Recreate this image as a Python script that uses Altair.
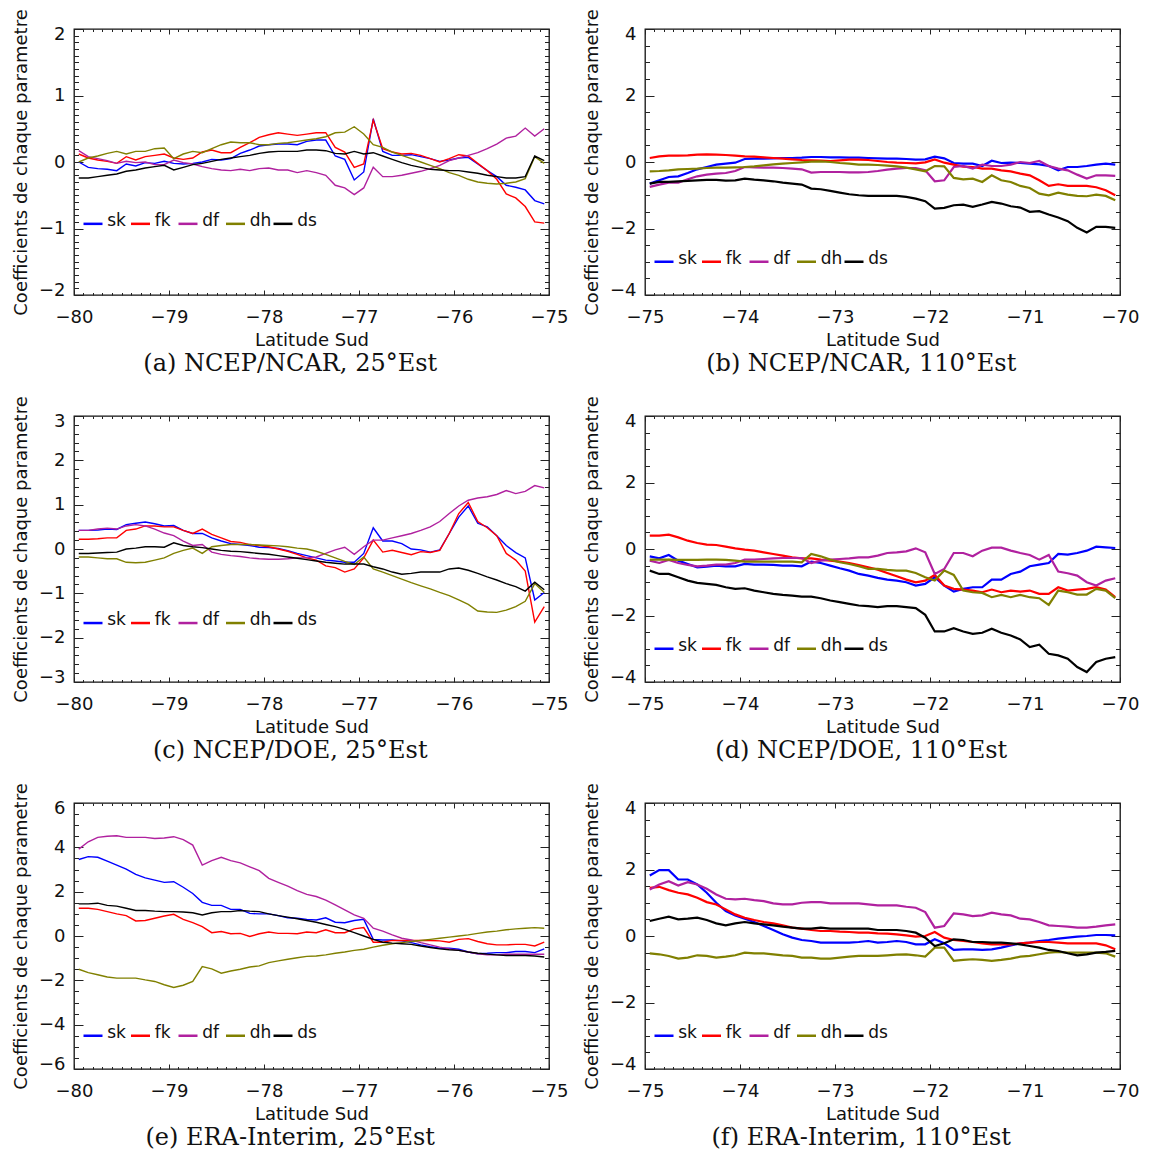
import altair as alt
import pandas as pd

# ---------------- data ----------------
LAT_25 = [round(-79.95 + 0.1 * i, 2) for i in range(50)]
LAT_110 = [round(-74.95 + 0.1 * i, 2) for i in range(50)]
PARAMS = ["sk", "fk", "df", "dh", "ds"]
COLORS = ["#0000ff", "#ff0000", "#b0219f", "#808000", "#000000"]

# (a) NCEP/NCAR 25E
a_sk = [0.0,-0.08,-0.1,-0.11,-0.13,-0.03,-0.06,-0.01,-0.02,0.01,
        -0.02,-0.03,-0.02,0.0,0.04,0.03,0.05,0.13,0.18,0.24,
        0.26,0.27,0.27,0.26,0.31,0.33,0.33,0.09,0.04,-0.27,
        -0.15,0.65,0.16,0.1,0.1,0.11,0.08,0.05,0.01,0.03,
        0.06,0.07,-0.03,-0.13,-0.22,-0.35,-0.38,-0.42,-0.58,-0.63]
a_fk = [0.12,0.06,0.03,0.01,-0.02,0.08,0.03,0.08,0.1,0.12,
        0.06,0.04,0.06,0.15,0.18,0.14,0.14,0.22,0.29,0.37,
        0.41,0.44,0.42,0.4,0.42,0.44,0.44,0.22,0.15,-0.08,
        -0.03,0.63,0.2,0.15,0.12,0.13,0.1,0.05,0.0,0.05,
        0.11,0.09,-0.02,-0.13,-0.26,-0.48,-0.54,-0.67,-0.9,-0.92]
a_df = [0.17,0.08,0.05,0.02,-0.02,0.01,-0.01,0.0,-0.04,-0.04,
        0.03,-0.01,-0.03,-0.07,-0.1,-0.12,-0.13,-0.11,-0.13,-0.1,
        -0.09,-0.12,-0.12,-0.16,-0.13,-0.16,-0.2,-0.35,-0.39,-0.49,
        -0.39,-0.08,-0.22,-0.22,-0.2,-0.17,-0.14,-0.1,-0.05,0.02,
        0.06,0.1,0.14,0.2,0.27,0.36,0.39,0.51,0.39,0.5]
a_dh = [0.0,0.06,0.09,0.13,0.16,0.12,0.16,0.16,0.2,0.21,
        0.05,0.12,0.16,0.14,0.2,0.26,0.3,0.29,0.29,0.26,
        0.26,0.28,0.29,0.31,0.33,0.35,0.38,0.44,0.45,0.53,
        0.42,0.26,0.22,0.15,0.1,0.05,0.0,-0.05,-0.1,-0.16,
        -0.2,-0.26,-0.3,-0.32,-0.33,-0.32,-0.3,-0.25,0.08,-0.02]
a_ds = [-0.24,-0.24,-0.22,-0.2,-0.18,-0.14,-0.12,-0.09,-0.07,-0.05,
        -0.12,-0.08,-0.04,-0.02,0.01,0.04,0.06,0.08,0.1,0.13,
        0.15,0.16,0.16,0.16,0.18,0.18,0.17,0.13,0.12,0.16,
        0.12,0.14,0.09,0.04,-0.01,-0.05,-0.08,-0.11,-0.12,-0.13,
        -0.13,-0.15,-0.17,-0.2,-0.22,-0.24,-0.24,-0.22,0.09,0.02]

# (b) NCEP/NCAR 110E
b_sk = [-0.65,-0.55,-0.45,-0.43,-0.33,-0.22,-0.15,-0.08,-0.05,-0.02,
        0.09,0.1,0.1,0.11,0.12,0.12,0.13,0.15,0.15,0.14,
        0.14,0.13,0.13,0.12,0.11,0.1,0.1,0.09,0.07,0.08,
        0.16,0.11,-0.03,-0.05,-0.05,-0.12,0.04,-0.03,-0.02,-0.03,
        -0.05,-0.07,-0.12,-0.25,-0.15,-0.15,-0.12,-0.08,-0.05,-0.08]
b_fk = [0.12,0.17,0.19,0.19,0.2,0.22,0.23,0.22,0.21,0.19,
        0.17,0.16,0.14,0.12,0.1,0.08,0.06,0.05,0.04,0.03,
        0.05,0.07,0.07,0.06,0.03,0.0,-0.02,-0.03,-0.04,-0.01,
        0.08,-0.02,-0.08,-0.14,-0.15,-0.2,-0.2,-0.25,-0.28,-0.35,
        -0.4,-0.55,-0.72,-0.67,-0.72,-0.72,-0.72,-0.76,-0.85,-1.0]
b_df = [-0.75,-0.68,-0.62,-0.62,-0.52,-0.43,-0.38,-0.35,-0.33,-0.27,
        -0.15,-0.16,-0.17,-0.17,-0.18,-0.2,-0.22,-0.32,-0.3,-0.3,
        -0.3,-0.31,-0.31,-0.3,-0.27,-0.23,-0.2,-0.18,-0.18,-0.25,
        -0.58,-0.55,-0.15,-0.12,-0.2,-0.08,-0.12,-0.12,-0.08,0.0,
        -0.03,0.03,-0.12,-0.2,-0.25,-0.38,-0.5,-0.4,-0.4,-0.42]
b_dh = [-0.28,-0.27,-0.25,-0.22,-0.21,-0.2,-0.18,-0.17,-0.17,-0.16,
        -0.15,-0.13,-0.1,-0.07,-0.05,-0.03,-0.01,0.01,0.02,0.0,
        -0.03,-0.05,-0.08,-0.08,-0.09,-0.11,-0.13,-0.17,-0.22,-0.28,
        -0.12,-0.13,-0.48,-0.52,-0.5,-0.6,-0.4,-0.55,-0.6,-0.72,
        -0.78,-0.95,-1.0,-0.92,-0.98,-1.02,-1.03,-0.98,-1.02,-1.15]
b_ds = [-0.65,-0.6,-0.6,-0.58,-0.57,-0.55,-0.54,-0.54,-0.56,-0.55,
        -0.5,-0.53,-0.55,-0.58,-0.62,-0.65,-0.68,-0.8,-0.82,-0.87,
        -0.92,-0.97,-1.0,-1.02,-1.02,-1.02,-1.02,-1.05,-1.1,-1.18,
        -1.4,-1.38,-1.3,-1.28,-1.35,-1.28,-1.2,-1.25,-1.33,-1.37,
        -1.5,-1.48,-1.58,-1.67,-1.78,-1.98,-2.12,-1.95,-1.95,-1.98]

# (c) NCEP/DOE 25E
c_sk = [0.42,0.42,0.43,0.45,0.44,0.55,0.58,0.61,0.57,0.52,
        0.53,0.42,0.35,0.35,0.25,0.18,0.12,0.1,0.08,0.04,
        0.03,0.01,-0.04,-0.1,-0.15,-0.2,-0.25,-0.27,-0.3,-0.3,
        -0.1,0.48,0.18,0.18,0.12,0.0,-0.02,-0.07,-0.02,0.35,
        0.72,0.97,0.58,0.5,0.3,0.08,-0.08,-0.2,-1.15,-0.98]
c_fk = [0.22,0.22,0.23,0.25,0.25,0.42,0.45,0.52,0.52,0.5,
        0.5,0.42,0.35,0.45,0.33,0.25,0.17,0.15,0.1,0.08,
        0.05,0.0,-0.05,-0.12,-0.2,-0.25,-0.38,-0.42,-0.52,-0.45,
        -0.2,0.2,-0.07,-0.03,-0.08,-0.13,-0.06,-0.08,-0.03,0.35,
        0.8,1.05,0.62,0.48,0.3,-0.1,-0.25,-0.5,-1.65,-1.3]
c_df = [0.42,0.42,0.45,0.47,0.45,0.52,0.55,0.52,0.45,0.36,
        0.3,0.18,0.08,0.1,-0.07,-0.12,-0.15,-0.17,-0.2,-0.22,
        -0.23,-0.23,-0.22,-0.2,-0.2,-0.18,-0.1,-0.02,0.04,-0.12,
        0.05,0.2,0.2,0.25,0.3,0.35,0.42,0.5,0.62,0.8,
        0.97,1.1,1.15,1.18,1.23,1.32,1.25,1.3,1.43,1.38]
c_dh = [-0.18,-0.18,-0.2,-0.22,-0.22,-0.3,-0.31,-0.3,-0.25,-0.2,
        -0.1,-0.03,0.02,-0.1,0.05,0.08,0.1,0.1,0.1,0.09,
        0.08,0.07,0.05,0.02,0.0,-0.05,-0.12,-0.2,-0.28,-0.35,
        -0.18,-0.45,-0.52,-0.6,-0.68,-0.76,-0.83,-0.9,-0.98,-1.05,
        -1.15,-1.25,-1.4,-1.42,-1.43,-1.38,-1.3,-1.18,-0.78,-0.98]
c_ds = [-0.1,-0.1,-0.09,-0.08,-0.07,0.0,0.02,0.05,0.05,0.04,
        0.14,0.08,0.05,0.03,0.0,-0.03,-0.05,-0.06,-0.08,-0.1,
        -0.12,-0.15,-0.18,-0.21,-0.24,-0.27,-0.3,-0.32,-0.34,-0.34,
        -0.34,-0.4,-0.45,-0.52,-0.57,-0.55,-0.52,-0.52,-0.52,-0.45,
        -0.43,-0.48,-0.55,-0.63,-0.7,-0.78,-0.85,-0.95,-0.75,-0.92]

# (d) NCEP/DOE 110E
d_sk = [-0.22,-0.28,-0.18,-0.35,-0.45,-0.55,-0.53,-0.5,-0.52,-0.52,
        -0.45,-0.47,-0.47,-0.48,-0.5,-0.5,-0.52,-0.38,-0.42,-0.5,
        -0.58,-0.65,-0.75,-0.8,-0.87,-0.92,-0.95,-1.0,-1.1,-1.05,
        -0.85,-1.1,-1.28,-1.2,-1.15,-1.15,-0.92,-0.92,-0.75,-0.68,
        -0.52,-0.47,-0.42,-0.15,-0.17,-0.12,-0.05,0.07,0.05,0.03]
d_fk = [0.4,0.4,0.43,0.35,0.25,0.18,0.13,0.12,0.07,0.02,
        -0.02,-0.05,-0.1,-0.15,-0.2,-0.25,-0.28,-0.28,-0.32,-0.35,
        -0.38,-0.42,-0.48,-0.55,-0.62,-0.72,-0.82,-0.92,-1.0,-0.95,
        -0.78,-1.1,-1.2,-1.22,-1.25,-1.3,-1.22,-1.3,-1.25,-1.28,
        -1.25,-1.35,-1.35,-1.15,-1.25,-1.22,-1.2,-1.15,-1.22,-1.45]
d_df = [-0.35,-0.42,-0.33,-0.42,-0.48,-0.52,-0.5,-0.47,-0.47,-0.42,
        -0.32,-0.32,-0.3,-0.28,-0.27,-0.27,-0.27,-0.42,-0.35,-0.32,
        -0.3,-0.28,-0.25,-0.25,-0.2,-0.12,-0.1,-0.07,0.02,-0.1,
        -0.75,-0.6,-0.12,-0.12,-0.22,-0.05,0.04,0.04,-0.05,-0.12,
        -0.18,-0.32,-0.18,-0.68,-0.73,-0.8,-1.0,-1.1,-0.95,-0.88]
d_dh = [-0.32,-0.32,-0.32,-0.33,-0.33,-0.33,-0.32,-0.32,-0.33,-0.35,
        -0.38,-0.38,-0.38,-0.38,-0.38,-0.38,-0.4,-0.15,-0.22,-0.32,
        -0.4,-0.45,-0.52,-0.6,-0.6,-0.63,-0.65,-0.65,-0.72,-0.85,
        -0.95,-0.65,-0.78,-1.25,-1.3,-1.32,-1.45,-1.38,-1.45,-1.38,
        -1.45,-1.48,-1.68,-1.25,-1.3,-1.37,-1.37,-1.2,-1.25,-1.48]
d_ds = [-0.65,-0.75,-0.75,-0.85,-0.95,-1.02,-1.05,-1.08,-1.15,-1.2,
        -1.18,-1.25,-1.3,-1.35,-1.38,-1.4,-1.43,-1.43,-1.48,-1.55,
        -1.6,-1.65,-1.7,-1.72,-1.75,-1.72,-1.72,-1.75,-1.78,-1.98,
        -2.48,-2.48,-2.38,-2.48,-2.55,-2.52,-2.4,-2.52,-2.6,-2.72,
        -2.95,-2.88,-3.15,-3.2,-3.3,-3.55,-3.7,-3.4,-3.3,-3.25]

# (e) ERA-Interim 25E
e_sk = [3.45,3.58,3.55,3.38,3.2,3.02,2.78,2.62,2.52,2.42,
        2.45,2.2,1.92,1.52,1.38,1.38,1.2,1.2,1.02,1.0,
        1.0,0.92,0.82,0.8,0.75,0.72,0.82,0.62,0.6,0.7,
        0.75,-0.15,-0.18,-0.18,-0.22,-0.3,-0.4,-0.48,-0.55,-0.55,
        -0.6,-0.72,-0.8,-0.78,-0.75,-0.75,-0.7,-0.7,-0.75,-0.58]
e_fk = [1.25,1.25,1.2,1.1,1.0,0.92,0.68,0.7,0.8,0.9,
        0.98,0.75,0.6,0.42,0.15,0.2,0.1,0.12,-0.02,0.1,
        0.18,0.12,0.12,0.1,0.18,0.15,0.28,0.15,0.15,0.32,
        0.38,-0.28,-0.28,-0.2,-0.2,-0.2,-0.2,-0.2,-0.22,-0.28,
        -0.15,-0.12,-0.25,-0.35,-0.4,-0.4,-0.38,-0.38,-0.45,-0.28]
e_df = [3.92,4.25,4.45,4.5,4.52,4.45,4.45,4.45,4.4,4.42,
        4.48,4.35,4.1,3.2,3.4,3.55,3.4,3.3,3.12,2.95,
        2.6,2.42,2.25,2.05,1.88,1.78,1.62,1.4,1.18,0.95,
        0.8,0.35,0.22,0.05,-0.1,-0.18,-0.3,-0.4,-0.5,-0.58,
        -0.65,-0.72,-0.8,-0.85,-0.85,-0.82,-0.82,-0.82,-0.82,-0.82]
e_dh = [-1.5,-1.65,-1.75,-1.85,-1.9,-1.9,-1.9,-1.98,-2.05,-2.2,
        -2.32,-2.22,-2.05,-1.38,-1.48,-1.68,-1.58,-1.5,-1.4,-1.35,
        -1.2,-1.12,-1.05,-0.98,-0.92,-0.9,-0.85,-0.78,-0.72,-0.65,
        -0.6,-0.5,-0.42,-0.35,-0.3,-0.25,-0.2,-0.15,-0.1,-0.05,
        0.0,0.05,0.12,0.18,0.22,0.28,0.32,0.35,0.38,0.35]
e_ds = [1.45,1.45,1.48,1.38,1.35,1.25,1.15,1.15,1.12,1.1,
        1.1,1.08,1.05,0.95,1.05,1.1,1.1,1.15,1.12,1.1,
        1.0,0.92,0.85,0.78,0.7,0.62,0.52,0.42,0.3,0.15,
        0.0,-0.15,-0.28,-0.32,-0.35,-0.38,-0.45,-0.52,-0.58,-0.62,
        -0.65,-0.72,-0.78,-0.82,-0.85,-0.88,-0.88,-0.88,-0.9,-0.95]

# (f) ERA-Interim 110E
f_sk = [1.82,1.98,1.98,1.7,1.7,1.55,1.3,1.0,0.75,0.62,
        0.52,0.42,0.3,0.18,0.05,-0.05,-0.12,-0.15,-0.2,-0.2,
        -0.2,-0.2,-0.18,-0.15,-0.2,-0.18,-0.15,-0.18,-0.25,-0.25,
        -0.1,-0.22,-0.42,-0.4,-0.4,-0.42,-0.4,-0.35,-0.28,-0.22,
        -0.2,-0.15,-0.12,-0.08,-0.05,-0.02,0.0,0.03,0.03,0.02]
f_fk = [1.45,1.48,1.38,1.3,1.25,1.15,1.02,0.95,0.8,0.65,
        0.55,0.48,0.42,0.38,0.32,0.25,0.22,0.18,0.15,0.15,
        0.13,0.12,0.1,0.1,0.08,0.07,0.05,0.02,-0.02,0.0,
        0.12,-0.05,-0.12,-0.15,-0.18,-0.22,-0.25,-0.25,-0.25,-0.22,
        -0.2,-0.18,-0.18,-0.2,-0.22,-0.22,-0.22,-0.22,-0.28,-0.4]
f_df = [1.4,1.55,1.65,1.52,1.62,1.55,1.42,1.25,1.12,1.1,
        1.12,1.08,1.05,0.98,0.95,0.95,1.0,1.02,1.02,0.98,
        0.98,0.98,0.98,0.95,0.92,0.92,0.92,0.88,0.85,0.72,
        0.25,0.3,0.68,0.65,0.6,0.62,0.7,0.65,0.62,0.52,
        0.5,0.42,0.32,0.3,0.28,0.25,0.25,0.28,0.32,0.35]
f_dh = [-0.52,-0.55,-0.6,-0.68,-0.65,-0.58,-0.6,-0.65,-0.62,-0.58,
        -0.5,-0.52,-0.52,-0.55,-0.58,-0.6,-0.65,-0.65,-0.68,-0.68,
        -0.65,-0.62,-0.6,-0.6,-0.6,-0.58,-0.56,-0.55,-0.58,-0.62,
        -0.35,-0.35,-0.75,-0.72,-0.7,-0.72,-0.75,-0.72,-0.68,-0.62,
        -0.6,-0.55,-0.5,-0.48,-0.5,-0.5,-0.5,-0.5,-0.52,-0.62]
f_ds = [0.45,0.52,0.58,0.5,0.52,0.55,0.48,0.38,0.32,0.38,
        0.42,0.38,0.35,0.32,0.28,0.25,0.22,0.22,0.25,0.22,
        0.22,0.22,0.22,0.22,0.18,0.18,0.18,0.15,0.1,-0.05,
        -0.3,-0.22,-0.1,-0.12,-0.18,-0.18,-0.2,-0.2,-0.22,-0.25,
        -0.3,-0.35,-0.42,-0.45,-0.52,-0.58,-0.55,-0.5,-0.48,-0.45]

SANS = "DejaVu Sans"
SERIF = "DejaVu Serif"
YTITLE = "Coefficients de chaque parametre"


def frange(start, stop, step):
    out = []
    k = 0
    while True:
        v = round(start + k * step, 4)
        if v > stop + 1e-9:
            break
        out.append(v)
        k += 1
    return out


def panel(lat, series, xdom, ydom, ymaj, ymin, leg_y, caption, lw):
    rows = []
    for p, vals in zip(PARAMS, series):
        for x, v in zip(lat, vals):
            rows.append({"lat": x, "val": v, "param": p})
    df = pd.DataFrame(rows)

    leg = pd.DataFrame({
        "param": PARAMS,
        "x1": [xdom[0] + 0.1 + 0.5 * k for k in range(5)],
        "x2": [xdom[0] + 0.3 + 0.5 * k for k in range(5)],
        "xt": [xdom[0] + 0.35 + 0.5 * k for k in range(5)],
        "y": [leg_y] * 5,
    })

    xs = alt.Scale(domain=list(xdom), nice=False, zero=False)
    ys = alt.Scale(domain=list(ydom), nice=False, zero=False)
    cs = alt.Scale(domain=PARAMS, range=COLORS)

    x_major = frange(xdom[0], xdom[1], 1.0)
    x_minor = [v for v in frange(xdom[0], xdom[1], 0.1) if abs(v - round(v)) > 1e-6]
    y_major = frange(ydom[0], ydom[1], ymaj)
    y_minor = [v for v in frange(ydom[0], ydom[1], ymin)
               if min(abs(v - m) for m in y_major) > 1e-6]

    lines = alt.Chart(df).mark_line(strokeWidth=lw).encode(
        x=alt.X("lat:Q", scale=xs, axis=alt.Axis(
            values=x_major, format="d", title="Latitude Sud", ticks=False, tickSize=0,
            domain=False, grid=False, labelPadding=13, titlePadding=5,
            labelFlush=False, labelOverlap=False, labelBound=False)),
        y=alt.Y("val:Q", scale=ys, axis=alt.Axis(
            values=y_major, format="d", title=YTITLE, ticks=False, tickSize=0,
            domain=False, grid=False, labelPadding=9, titlePadding=8,
            labelFlush=True, labelFlushOffset=4, labelOverlap=False)),
        color=alt.Color("param:N", scale=cs, legend=None),
        order=alt.Order("lat:Q"),
    )

    leg_rules = alt.Chart(leg).mark_rule(strokeWidth=2.5).encode(
        x=alt.X("x1:Q", scale=xs, axis=None),
        x2="x2:Q",
        y=alt.Y("y:Q", scale=ys, axis=None),
        color=alt.Color("param:N", scale=cs, legend=None),
    )
    leg_text = alt.Chart(leg).mark_text(
        align="left", baseline="alphabetic", dy=2, fontSize=17, font=SANS, color="#111"
    ).encode(
        x=alt.X("xt:Q", scale=xs, axis=None),
        y=alt.Y("y:Q", scale=ys, axis=None),
        text="param:N",
    )

    def ticks(xv, xo, xsz, yv, yo, ysz):
        return alt.Chart(leg).mark_point(opacity=0).encode(
            x=alt.X("x1:Q", scale=xs, axis=alt.Axis(
                orient=xo, values=xv, labels=False, title=None, domain=False,
                grid=False, tickSize=xsz, offset=-xsz, tickColor="#222", tickWidth=1)),
            y=alt.Y("y:Q", scale=ys, axis=alt.Axis(
                orient=yo, values=yv, labels=False, title=None, domain=False,
                grid=False, tickSize=ysz, offset=-ysz, tickColor="#222", tickWidth=1)),
        )

    t1 = ticks(x_major, "bottom", 5, y_major, "left", 9)
    t2 = ticks(x_minor, "bottom", 2.5, y_minor, "left", 4.5)
    t3 = ticks(x_major, "top", 5, y_major, "right", 9)
    t4 = ticks(x_minor, "top", 2.5, y_minor, "right", 4.5)

    return alt.layer(lines, leg_rules, leg_text, t1, t2, t3, t4).resolve_axis(
        x="independent", y="independent"
    ).properties(
        width=475, height=266,
        title=alt.TitleParams(caption, orient="bottom", font=SERIF, fontSize=24,
                              fontWeight="normal", color="#111", offset=2.5,
                              anchor="middle", frame="bounds"),
    )


pa = panel(LAT_25, [a_sk, a_fk, a_df, a_dh, a_ds], (-80, -75), (-2, 2), 1, 0.1, -0.93,
           "(a) NCEP/NCAR, 25°Est", 1.4)
pb = panel(LAT_110, [b_sk, b_fk, b_df, b_dh, b_ds], (-75, -70), (-4, 4), 2, 0.5, -3.0,
           "(b) NCEP/NCAR, 110°Est", 2.2)
pc = panel(LAT_25, [c_sk, c_fk, c_df, c_dh, c_ds], (-80, -75), (-3, 3), 1, 0.2, -1.67,
           "(c) NCEP/DOE, 25°Est", 1.4)
pd_ = panel(LAT_110, [d_sk, d_fk, d_df, d_dh, d_ds], (-75, -70), (-4, 4), 2, 0.5, -3.0,
            "(d) NCEP/DOE, 110°Est", 2.2)
pe = panel(LAT_25, [e_sk, e_fk, e_df, e_dh, e_ds], (-80, -75), (-6, 6), 2, 0.5, -4.5,
           "(e) ERA-Interim, 25°Est", 1.4)
pf = panel(LAT_110, [f_sk, f_fk, f_df, f_dh, f_ds], (-75, -70), (-4, 4), 2, 0.5, -3.0,
           "(f) ERA-Interim, 110°Est", 2.2)

chart = alt.vconcat(
    alt.hconcat(pa, pb, spacing=13),
    alt.hconcat(pc, pd_, spacing=13),
    alt.hconcat(pe, pf, spacing=13),
    spacing=18,
).properties(
    padding={"left": 3, "top": 0, "right": 0, "bottom": 0},
    background="white",
).configure_view(
    stroke="#111", strokeWidth=1.3
).configure_axis(
    labelFont=SANS, titleFont=SANS, labelFontSize=18, titleFontSize=18,
    titleFontWeight="normal", labelColor="#111", titleColor="#111",
)

chart.save("out.html", embed_options={"renderer": "svg", "actions": False})
